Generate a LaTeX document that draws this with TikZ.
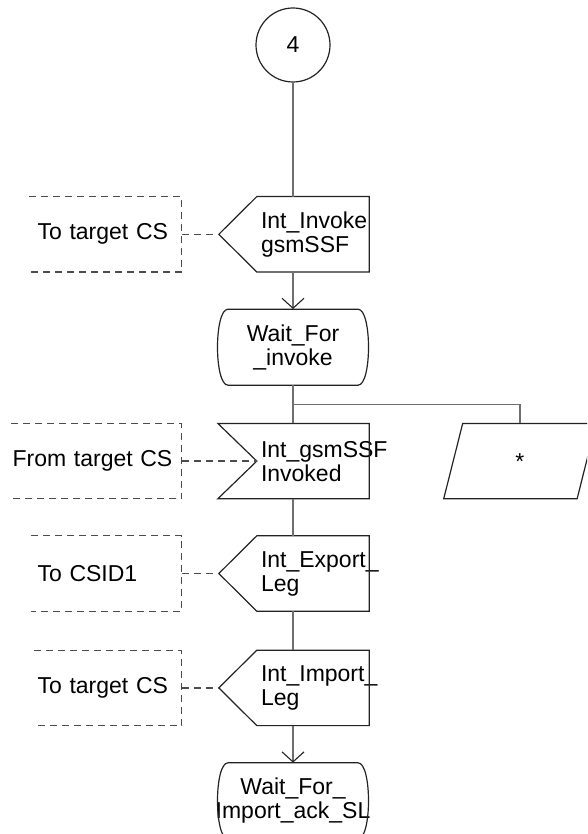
\documentclass[tikz,border=0pt]{standalone}
\usepackage{fontspec}
\setmainfont{Liberation Sans}
\usetikzlibrary{arrows.meta,positioning,calc}
\definecolor{flowGray}{RGB}{110,110,110}
\definecolor{edgeDark}{RGB}{35,35,35}
\definecolor{dashGray}{RGB}{75,75,75}
\tikzset{
  base/.style={font=\fontsize{23}{24}\selectfont, inner sep=0pt},
  outline/.style={draw=edgeDark, line width=1.2pt},
  flow/.style={draw=flowGray, line width=1.8pt},
  arrow/.style={flow, -{Straight Barb[length=10pt, width=22pt, line width=1.1pt, color=edgeDark]}},
  dashline/.style={draw=dashGray, line width=1.3pt, dash pattern=on 7pt off 5pt},
  joint/.style={base, circle, outline, minimum size=74pt},
  sigbox/.style={base, minimum width=112pt, minimum height=75pt, text width=104pt, inner xsep=4pt, align=left},
  statebox/.style={base, minimum width=150pt, minimum height=76pt, align=center},
  envbox/.style={base, minimum height=75pt, align=left},
  anybox/.style={base, minimum width=133pt, minimum height=75pt}
}
\newcommand{\outsig}[1]{\draw[outline] (#1.north west) -- (#1.north east) -- (#1.south east) -- (#1.south west) -- ([xshift=-38pt]#1.west) -- cycle;}
\newcommand{\insig}[1]{\draw[outline] ([xshift=-39pt]#1.north west) -- (#1.north east) -- (#1.south east) -- ([xshift=-39pt]#1.south west) -- (#1.west) -- cycle;}
\newcommand{\waitstate}[1]{\draw[outline] ($(#1.center)+(-65,-38)$) -- ($(#1.center)+(65,-38)$) .. controls ($(#1.center)+(79,-38)$) and ($(#1.center)+(79,38)$) .. ($(#1.center)+(65,38)$) -- ($(#1.center)+(-65,38)$) .. controls ($(#1.center)+(-79,38)$) and ($(#1.center)+(-79,-38)$) .. cycle;}
\newcommand{\envframe}[1]{\draw[dashline] (#1.north west) -- (#1.north east) -- (#1.south east) -- (#1.south west);}

\begin{document}
\begin{tikzpicture}[x=1pt, y=-1pt]
  \useasboundingbox (0,0) rectangle (587,834);
  \clip (0,0) rectangle (587,834);

  \node[joint] (con4) at (293,45) {4};
  \node[sigbox, below=114pt of con4, xshift=20pt] (invoke) {Int\_Invoke\\gsmSSF};
  \node[statebox, below=37pt of invoke, xshift=-20pt] (waitinv) {Wait\_For\\\_invoke};
  \node[sigbox, below=38pt of waitinv, xshift=20pt] (invoked) {Int\_gsmSSF\\Invoked};
  \node[sigbox, below=37pt of invoked] (export) {Int\_Export\_\\Leg};
  \node[sigbox, below=39pt of export] (import) {Int\_Import\_\\Leg};
  \node[statebox, below=37pt of import, xshift=-20pt] (waitimp) {Wait\_For\_\\Import\_ack\_SL};
  \node[anybox, right=84pt of invoked] (other) {*};

  \node[envbox, left=75pt of invoke, text width=136pt, inner xsep=8pt] (tocs) {To target CS};
  \node[envbox, left=75pt of invoked, text width=168pt, inner xsep=1pt] (fromcs) {From target CS};
  \node[envbox, left=75pt of export, text width=138pt, inner xsep=6pt] (tocsid) {To CSID1};
  \node[envbox, left=75pt of import, text width=141pt, inner xsep=3pt] (tocs2) {To target CS};

  % symbol outlines
  \outsig{invoke}
  \insig{invoked}
  \outsig{export}
  \outsig{import}
  \waitstate{waitinv}
  \waitstate{waitimp}
  \draw[outline] ([xshift=9.5pt]other.north west) -- ([xshift=9.5pt]other.north east) -- ([xshift=-9.5pt]other.south east) -- ([xshift=-9.5pt]other.south west) -- cycle;
  \envframe{tocs}
  \envframe{fromcs}
  \envframe{tocsid}
  \envframe{tocs2}

  % flow
  \draw[flow] (con4) -- (con4 |- invoke.north);
  \draw[arrow] (invoke.south -| con4) -- (waitinv);
  \draw[flow] (waitinv) -- (waitinv |- invoked.north);
  \coordinate (fork) at ($(waitinv.south)!0.5!(waitinv |- invoked.north)$);
  \draw[flow] (fork) -| (other);
  \draw[flow] (invoked.south -| waitinv) -- (waitinv |- export.north);
  \draw[flow] (export.south -| waitinv) -- (waitinv |- import.north);
  \draw[arrow] (import.south -| waitinv) -- (waitimp);

  % signal routes
  \draw[dashline] (tocs.east) -- ([xshift=-38pt]invoke.west);
  \draw[dashline] (fromcs.east) -- (invoked.west);
  \draw[dashline] (tocsid.east) -- ([xshift=-38pt]export.west);
  \draw[dashline] (tocs2.east) -- ([xshift=-38pt]import.west);
\end{tikzpicture}
\end{document}
